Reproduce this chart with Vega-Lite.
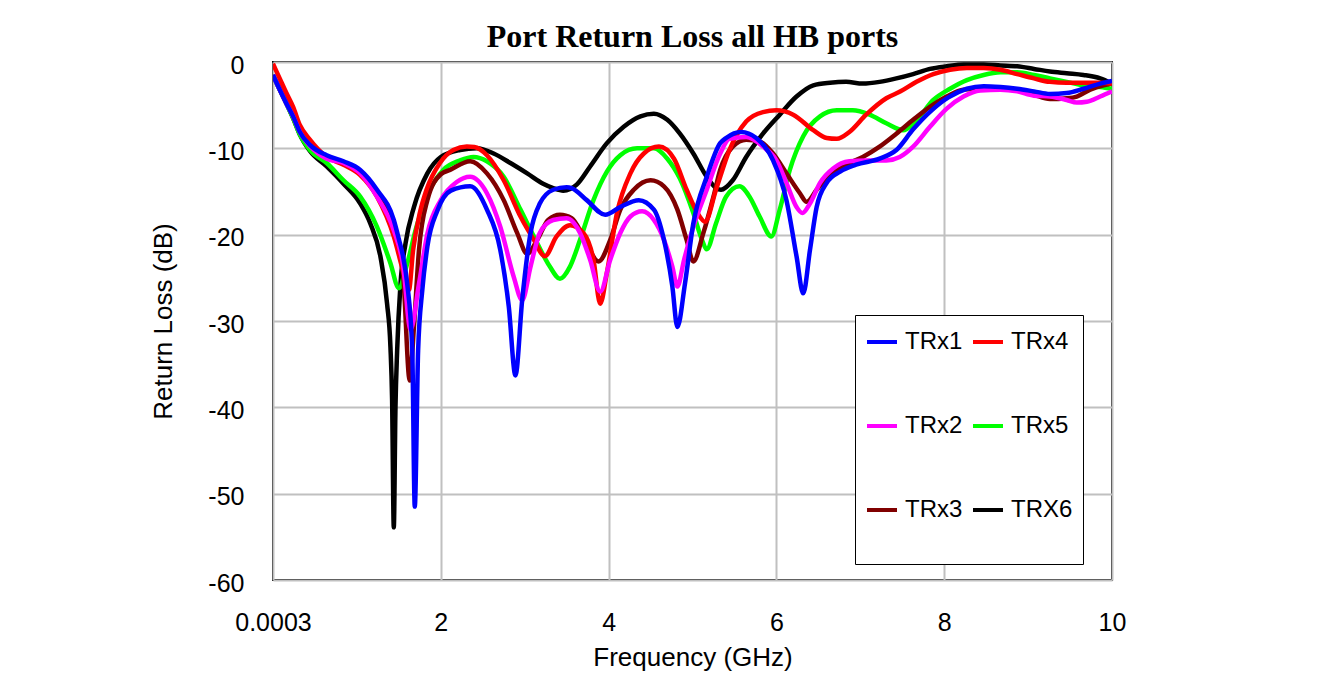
{
  "$schema": "https://vega.github.io/schema/vega-lite/v6.json",
  "autosize": {"type": "none"},
  "width": 839,
  "height": 518,
  "padding": {"left": 273, "top": 62, "right": 221, "bottom": 97},
  "background": "white",
  "title": {"text": "Port Return Loss all HB ports", "font": "Liberation Serif", "fontSize": 32, "fontWeight": "bold", "color": "black", "anchor": "middle", "offset": -1},
  "config": {
    "view": {"stroke": "black", "strokeWidth": 2},
    "axis": {"labelFont": "Liberation Sans", "titleFont": "Liberation Sans", "labelColor": "black", "titleColor": "black", "titleFontWeight": "normal", "gridColor": "#c0c0c0", "gridWidth": 2, "gridOpacity": 1, "domain": false, "ticks": false, "labelFlush": false}
  },
  "datasets": {
    "rl": [
      {"port":"TRX6","freq":0,"rl":-1.5},{"port":"TRX6","freq":0.08,"rl":-3.2},{"port":"TRX6","freq":0.16,"rl":-4.8},{"port":"TRX6","freq":0.24,"rl":-6.5},{"port":"TRX6","freq":0.32,"rl":-8.4},{"port":"TRX6","freq":0.44,"rl":-10.3},{"port":"TRX6","freq":0.64,"rl":-12.1},{"port":"TRX6","freq":0.84,"rl":-14.1},{"port":"TRX6","freq":1.04,"rl":-16.4},{"port":"TRX6","freq":1.16,"rl":-18.7},{"port":"TRX6","freq":1.28,"rl":-22.5},{"port":"TRX6","freq":1.36,"rl":-28},{"port":"TRX6","freq":1.40,"rl":-33},{"port":"TRX6","freq":1.42,"rl":-39.2},{"port":"TRX6","freq":1.44,"rl":-53.9},{"port":"TRX6","freq":1.46,"rl":-40},{"port":"TRX6","freq":1.48,"rl":-33.4},{"port":"TRX6","freq":1.52,"rl":-25.7},{"port":"TRX6","freq":1.58,"rl":-21},{"port":"TRX6","freq":1.68,"rl":-16.8},{"port":"TRX6","freq":1.84,"rl":-12.9},{"port":"TRX6","freq":2.0,"rl":-11},{"port":"TRX6","freq":2.23,"rl":-10.2},{"port":"TRX6","freq":2.43,"rl":-10},{"port":"TRX6","freq":2.63,"rl":-10.6},{"port":"TRX6","freq":2.83,"rl":-11.7},{"port":"TRX6","freq":3.03,"rl":-12.9},{"port":"TRX6","freq":3.22,"rl":-14.1},{"port":"TRX6","freq":3.34,"rl":-14.6},{"port":"TRX6","freq":3.46,"rl":-14.9},{"port":"TRX6","freq":3.62,"rl":-14.2},{"port":"TRX6","freq":3.78,"rl":-12.1},{"port":"TRX6","freq":3.98,"rl":-9.4},{"port":"TRX6","freq":4.18,"rl":-7.5},{"port":"TRX6","freq":4.38,"rl":-6.3},{"port":"TRX6","freq":4.54,"rl":-6},{"port":"TRX6","freq":4.70,"rl":-6.7},{"port":"TRX6","freq":4.85,"rl":-8.3},{"port":"TRX6","freq":5.01,"rl":-10.6},{"port":"TRX6","freq":5.17,"rl":-13.3},{"port":"TRX6","freq":5.28,"rl":-14.6},{"port":"TRX6","freq":5.34,"rl":-14.8},{"port":"TRX6","freq":5.48,"rl":-13.7},{"port":"TRX6","freq":5.64,"rl":-11},{"port":"TRX6","freq":5.84,"rl":-8.3},{"port":"TRX6","freq":6.04,"rl":-6.1},{"port":"TRX6","freq":6.24,"rl":-4},{"port":"TRX6","freq":6.44,"rl":-2.7},{"port":"TRX6","freq":6.64,"rl":-2.4},{"port":"TRX6","freq":6.83,"rl":-2.3},{"port":"TRX6","freq":7.03,"rl":-2.5},{"port":"TRX6","freq":7.23,"rl":-2.3},{"port":"TRX6","freq":7.43,"rl":-1.9},{"port":"TRX6","freq":7.63,"rl":-1.4},{"port":"TRX6","freq":7.83,"rl":-0.8},{"port":"TRX6","freq":8.03,"rl":-0.5},{"port":"TRX6","freq":8.23,"rl":-0.3},{"port":"TRX6","freq":8.47,"rl":-0.3},{"port":"TRX6","freq":8.67,"rl":-0.4},{"port":"TRX6","freq":8.87,"rl":-0.5},{"port":"TRX6","freq":9.07,"rl":-0.8},{"port":"TRX6","freq":9.26,"rl":-1.1},{"port":"TRX6","freq":9.46,"rl":-1.3},{"port":"TRX6","freq":9.66,"rl":-1.5},{"port":"TRX6","freq":9.86,"rl":-1.9},{"port":"TRX6","freq":10,"rl":-2.5},

      {"port":"TRx5","freq":0,"rl":-1.5},{"port":"TRx5","freq":0.08,"rl":-3.2},{"port":"TRx5","freq":0.16,"rl":-4.8},{"port":"TRx5","freq":0.24,"rl":-6.5},{"port":"TRx5","freq":0.32,"rl":-8.4},{"port":"TRx5","freq":0.44,"rl":-10.2},{"port":"TRx5","freq":0.64,"rl":-11.7},{"port":"TRx5","freq":0.84,"rl":-13.7},{"port":"TRx5","freq":1.04,"rl":-15.6},{"port":"TRx5","freq":1.24,"rl":-19.1},{"port":"TRx5","freq":1.40,"rl":-23.3},{"port":"TRx5","freq":1.50,"rl":-26.2},{"port":"TRx5","freq":1.59,"rl":-23.7},{"port":"TRx5","freq":1.71,"rl":-19.1},{"port":"TRx5","freq":1.87,"rl":-14.8},{"port":"TRx5","freq":2.03,"rl":-12.5},{"port":"TRx5","freq":2.23,"rl":-11.4},{"port":"TRx5","freq":2.39,"rl":-11},{"port":"TRx5","freq":2.55,"rl":-11.5},{"port":"TRx5","freq":2.75,"rl":-13.3},{"port":"TRx5","freq":2.95,"rl":-17.1},{"port":"TRx5","freq":3.15,"rl":-21},{"port":"TRx5","freq":3.30,"rl":-23.7},{"port":"TRx5","freq":3.42,"rl":-25.1},{"port":"TRx5","freq":3.54,"rl":-23.7},{"port":"TRx5","freq":3.66,"rl":-20.6},{"port":"TRx5","freq":3.82,"rl":-16},{"port":"TRx5","freq":3.98,"rl":-12.7},{"port":"TRx5","freq":4.14,"rl":-10.8},{"port":"TRx5","freq":4.34,"rl":-10},{"port":"TRx5","freq":4.54,"rl":-10},{"port":"TRx5","freq":4.70,"rl":-11.2},{"port":"TRx5","freq":4.85,"rl":-13.5},{"port":"TRx5","freq":5.01,"rl":-17.5},{"port":"TRx5","freq":5.11,"rl":-20.5},{"port":"TRx5","freq":5.17,"rl":-21.7},{"port":"TRx5","freq":5.28,"rl":-18.7},{"port":"TRx5","freq":5.40,"rl":-15.6},{"port":"TRx5","freq":5.56,"rl":-14.4},{"port":"TRx5","freq":5.68,"rl":-15.6},{"port":"TRx5","freq":5.80,"rl":-17.9},{"port":"TRx5","freq":5.94,"rl":-20.2},{"port":"TRx5","freq":6.04,"rl":-17.1},{"port":"TRx5","freq":6.16,"rl":-12.5},{"port":"TRx5","freq":6.32,"rl":-8.6},{"port":"TRx5","freq":6.52,"rl":-6.3},{"port":"TRx5","freq":6.72,"rl":-5.6},{"port":"TRx5","freq":6.91,"rl":-5.6},{"port":"TRx5","freq":7.11,"rl":-6.1},{"port":"TRx5","freq":7.31,"rl":-7.1},{"port":"TRx5","freq":7.51,"rl":-7.9},{"port":"TRx5","freq":7.65,"rl":-7},{"port":"TRx5","freq":7.87,"rl":-4.4},{"port":"TRx5","freq":8.07,"rl":-3.1},{"port":"TRx5","freq":8.27,"rl":-2.1},{"port":"TRx5","freq":8.47,"rl":-1.5},{"port":"TRx5","freq":8.67,"rl":-1.2},{"port":"TRx5","freq":8.87,"rl":-1.2},{"port":"TRx5","freq":9.07,"rl":-1.5},{"port":"TRx5","freq":9.26,"rl":-1.9},{"port":"TRx5","freq":9.46,"rl":-2.3},{"port":"TRx5","freq":9.66,"rl":-2.7},{"port":"TRx5","freq":9.86,"rl":-2.9},{"port":"TRx5","freq":10,"rl":-3.1},

      {"port":"TRx3","freq":0,"rl":-1.5},{"port":"TRx3","freq":0.08,"rl":-3.0},{"port":"TRx3","freq":0.16,"rl":-4.6},{"port":"TRx3","freq":0.24,"rl":-6.2},{"port":"TRx3","freq":0.32,"rl":-8.0},{"port":"TRx3","freq":0.44,"rl":-9.6},{"port":"TRx3","freq":0.64,"rl":-11},{"port":"TRx3","freq":0.84,"rl":-11.7},{"port":"TRx3","freq":1.04,"rl":-12.9},{"port":"TRx3","freq":1.24,"rl":-15.2},{"port":"TRx3","freq":1.44,"rl":-19.5},{"port":"TRx3","freq":1.55,"rl":-24.5},{"port":"TRx3","freq":1.63,"rl":-36.9},{"port":"TRx3","freq":1.68,"rl":-30.7},{"port":"TRx3","freq":1.74,"rl":-21.8},{"port":"TRx3","freq":1.84,"rl":-16},{"port":"TRx3","freq":2.0,"rl":-13},{"port":"TRx3","freq":2.11,"rl":-12.5},{"port":"TRx3","freq":2.35,"rl":-11.5},{"port":"TRx3","freq":2.55,"rl":-12.9},{"port":"TRx3","freq":2.75,"rl":-16},{"port":"TRx3","freq":2.91,"rl":-19.8},{"port":"TRx3","freq":3.03,"rl":-22.2},{"port":"TRx3","freq":3.15,"rl":-20.6},{"port":"TRx3","freq":3.28,"rl":-18.3},{"port":"TRx3","freq":3.42,"rl":-17.7},{"port":"TRx3","freq":3.56,"rl":-18.1},{"port":"TRx3","freq":3.70,"rl":-20.2},{"port":"TRx3","freq":3.88,"rl":-23.1},{"port":"TRx3","freq":4.02,"rl":-20.6},{"port":"TRx3","freq":4.14,"rl":-17.1},{"port":"TRx3","freq":4.30,"rl":-14.8},{"port":"TRx3","freq":4.50,"rl":-13.7},{"port":"TRx3","freq":4.66,"rl":-14.4},{"port":"TRx3","freq":4.82,"rl":-17.1},{"port":"TRx3","freq":4.93,"rl":-20.6},{"port":"TRx3","freq":5.01,"rl":-23.1},{"port":"TRx3","freq":5.13,"rl":-19.8},{"port":"TRx3","freq":5.25,"rl":-15.6},{"port":"TRx3","freq":5.33,"rl":-12.5},{"port":"TRx3","freq":5.48,"rl":-9.8},{"port":"TRx3","freq":5.64,"rl":-9},{"port":"TRx3","freq":5.80,"rl":-9.2},{"port":"TRx3","freq":5.96,"rl":-10.6},{"port":"TRx3","freq":6.12,"rl":-12.9},{"port":"TRx3","freq":6.28,"rl":-15.2},{"port":"TRx3","freq":6.36,"rl":-16.2},{"port":"TRx3","freq":6.48,"rl":-14.8},{"port":"TRx3","freq":6.64,"rl":-13.1},{"port":"TRx3","freq":6.83,"rl":-11.9},{"port":"TRx3","freq":7.03,"rl":-11},{"port":"TRx3","freq":7.23,"rl":-9.8},{"port":"TRx3","freq":7.43,"rl":-8.3},{"port":"TRx3","freq":7.63,"rl":-6.7},{"port":"TRx3","freq":7.83,"rl":-5.2},{"port":"TRx3","freq":8.03,"rl":-4},{"port":"TRx3","freq":8.23,"rl":-3.2},{"port":"TRx3","freq":8.47,"rl":-3.1},{"port":"TRx3","freq":8.67,"rl":-3.1},{"port":"TRx3","freq":8.87,"rl":-3.2},{"port":"TRx3","freq":9.07,"rl":-3.8},{"port":"TRx3","freq":9.26,"rl":-4.3},{"port":"TRx3","freq":9.46,"rl":-4.2},{"port":"TRx3","freq":9.58,"rl":-4},{"port":"TRx3","freq":9.74,"rl":-3.2},{"port":"TRx3","freq":9.9,"rl":-2.7},{"port":"TRx3","freq":10,"rl":-2.5},

      {"port":"TRx4","freq":0,"rl":-0.2},{"port":"TRx4","freq":0.08,"rl":-1.9},{"port":"TRx4","freq":0.16,"rl":-3.6},{"port":"TRx4","freq":0.24,"rl":-5.2},{"port":"TRx4","freq":0.32,"rl":-7.3},{"port":"TRx4","freq":0.44,"rl":-9},{"port":"TRx4","freq":0.64,"rl":-11},{"port":"TRx4","freq":0.84,"rl":-11.9},{"port":"TRx4","freq":1.04,"rl":-13.1},{"port":"TRx4","freq":1.24,"rl":-15.6},{"port":"TRx4","freq":1.44,"rl":-20.2},{"port":"TRx4","freq":1.55,"rl":-24.2},{"port":"TRx4","freq":1.62,"rl":-26.4},{"port":"TRx4","freq":1.67,"rl":-21.8},{"port":"TRx4","freq":1.75,"rl":-17.5},{"port":"TRx4","freq":1.83,"rl":-14.8},{"port":"TRx4","freq":1.99,"rl":-11.7},{"port":"TRx4","freq":2.15,"rl":-10.2},{"port":"TRx4","freq":2.31,"rl":-9.8},{"port":"TRx4","freq":2.40,"rl":-9.85},{"port":"TRx4","freq":2.55,"rl":-10.8},{"port":"TRx4","freq":2.75,"rl":-13.7},{"port":"TRx4","freq":2.95,"rl":-17.9},{"port":"TRx4","freq":3.11,"rl":-20.6},{"port":"TRx4","freq":3.24,"rl":-22.5},{"port":"TRx4","freq":3.38,"rl":-20.2},{"port":"TRx4","freq":3.54,"rl":-18.9},{"port":"TRx4","freq":3.70,"rl":-19.8},{"port":"TRx4","freq":3.82,"rl":-22.9},{"port":"TRx4","freq":3.90,"rl":-28},{"port":"TRx4","freq":3.98,"rl":-24.4},{"port":"TRx4","freq":4.10,"rl":-17.5},{"port":"TRx4","freq":4.26,"rl":-12.9},{"port":"TRx4","freq":4.42,"rl":-10.6},{"port":"TRx4","freq":4.60,"rl":-9.8},{"port":"TRx4","freq":4.78,"rl":-11.2},{"port":"TRx4","freq":4.93,"rl":-14.8},{"port":"TRx4","freq":5.06,"rl":-17.5},{"port":"TRx4","freq":5.15,"rl":-18.5},{"port":"TRx4","freq":5.28,"rl":-14.8},{"port":"TRx4","freq":5.44,"rl":-10.2},{"port":"TRx4","freq":5.64,"rl":-6.9},{"port":"TRx4","freq":5.84,"rl":-5.8},{"port":"TRx4","freq":6.0,"rl":-5.6},{"port":"TRx4","freq":6.2,"rl":-6.1},{"port":"TRx4","freq":6.44,"rl":-7.9},{"port":"TRx4","freq":6.6,"rl":-8.8},{"port":"TRx4","freq":6.72,"rl":-8.9},{"port":"TRx4","freq":6.87,"rl":-8.1},{"port":"TRx4","freq":7.07,"rl":-6.1},{"port":"TRx4","freq":7.31,"rl":-4.2},{"port":"TRx4","freq":7.48,"rl":-3.4},{"port":"TRx4","freq":7.67,"rl":-2.3},{"port":"TRx4","freq":7.87,"rl":-1.4},{"port":"TRx4","freq":8.07,"rl":-0.9},{"port":"TRx4","freq":8.27,"rl":-0.7},{"port":"TRx4","freq":8.47,"rl":-0.7},{"port":"TRx4","freq":8.67,"rl":-0.9},{"port":"TRx4","freq":8.87,"rl":-1.4},{"port":"TRx4","freq":9.07,"rl":-1.9},{"port":"TRx4","freq":9.26,"rl":-2.3},{"port":"TRx4","freq":9.46,"rl":-2.4},{"port":"TRx4","freq":9.66,"rl":-2.4},{"port":"TRx4","freq":9.86,"rl":-2.4},{"port":"TRx4","freq":10,"rl":-2.5},

      {"port":"TRx2","freq":0,"rl":-1.5},{"port":"TRx2","freq":0.08,"rl":-3.2},{"port":"TRx2","freq":0.16,"rl":-4.8},{"port":"TRx2","freq":0.24,"rl":-6.3},{"port":"TRx2","freq":0.32,"rl":-8.1},{"port":"TRx2","freq":0.44,"rl":-9.7},{"port":"TRx2","freq":0.64,"rl":-11.2},{"port":"TRx2","freq":0.84,"rl":-11.7},{"port":"TRx2","freq":1.04,"rl":-12.9},{"port":"TRx2","freq":1.24,"rl":-15.6},{"port":"TRx2","freq":1.44,"rl":-19.5},{"port":"TRx2","freq":1.55,"rl":-23.5},{"port":"TRx2","freq":1.64,"rl":-31},{"port":"TRx2","freq":1.74,"rl":-25.7},{"port":"TRx2","freq":1.84,"rl":-19.9},{"port":"TRx2","freq":2.0,"rl":-16},{"port":"TRx2","freq":2.19,"rl":-13.9},{"port":"TRx2","freq":2.35,"rl":-13.3},{"port":"TRx2","freq":2.55,"rl":-15.2},{"port":"TRx2","freq":2.71,"rl":-19.1},{"port":"TRx2","freq":2.87,"rl":-24.9},{"port":"TRx2","freq":2.97,"rl":-27.6},{"port":"TRx2","freq":3.07,"rl":-23.7},{"port":"TRx2","freq":3.18,"rl":-19.8},{"port":"TRx2","freq":3.34,"rl":-18.3},{"port":"TRx2","freq":3.50,"rl":-18.1},{"port":"TRx2","freq":3.66,"rl":-19.8},{"port":"TRx2","freq":3.78,"rl":-22.9},{"port":"TRx2","freq":3.90,"rl":-26.6},{"port":"TRx2","freq":4.02,"rl":-22.9},{"port":"TRx2","freq":4.14,"rl":-19.8},{"port":"TRx2","freq":4.26,"rl":-17.9},{"port":"TRx2","freq":4.40,"rl":-17.3},{"port":"TRx2","freq":4.54,"rl":-18.3},{"port":"TRx2","freq":4.66,"rl":-20.6},{"port":"TRx2","freq":4.76,"rl":-23.7},{"port":"TRx2","freq":4.82,"rl":-26},{"port":"TRx2","freq":4.90,"rl":-22.9},{"port":"TRx2","freq":5.01,"rl":-19.1},{"port":"TRx2","freq":5.17,"rl":-14.8},{"port":"TRx2","freq":5.33,"rl":-10.6},{"port":"TRx2","freq":5.44,"rl":-8.9},{"port":"TRx2","freq":5.64,"rl":-8.7},{"port":"TRx2","freq":5.84,"rl":-9.8},{"port":"TRx2","freq":6.0,"rl":-11.4},{"port":"TRx2","freq":6.12,"rl":-14},{"port":"TRx2","freq":6.24,"rl":-16.8},{"port":"TRx2","freq":6.31,"rl":-17.5},{"port":"TRx2","freq":6.40,"rl":-16.4},{"port":"TRx2","freq":6.52,"rl":-14},{"port":"TRx2","freq":6.68,"rl":-12.3},{"port":"TRx2","freq":6.87,"rl":-11.5},{"port":"TRx2","freq":7.07,"rl":-11.4},{"port":"TRx2","freq":7.31,"rl":-11.4},{"port":"TRx2","freq":7.47,"rl":-11},{"port":"TRx2","freq":7.63,"rl":-9.8},{"port":"TRx2","freq":7.83,"rl":-7.5},{"port":"TRx2","freq":8.03,"rl":-5.4},{"port":"TRx2","freq":8.23,"rl":-4},{"port":"TRx2","freq":8.43,"rl":-3.3},{"port":"TRx2","freq":8.67,"rl":-3.2},{"port":"TRx2","freq":8.87,"rl":-3.4},{"port":"TRx2","freq":9.07,"rl":-3.9},{"port":"TRx2","freq":9.26,"rl":-4},{"port":"TRx2","freq":9.46,"rl":-4.4},{"port":"TRx2","freq":9.58,"rl":-4.7},{"port":"TRx2","freq":9.70,"rl":-4.6},{"port":"TRx2","freq":9.86,"rl":-4},{"port":"TRx2","freq":10,"rl":-3.4},

      {"port":"TRx1","freq":0,"rl":-1.5},{"port":"TRx1","freq":0.08,"rl":-3.2},{"port":"TRx1","freq":0.16,"rl":-4.8},{"port":"TRx1","freq":0.24,"rl":-6.3},{"port":"TRx1","freq":0.32,"rl":-8.1},{"port":"TRx1","freq":0.44,"rl":-9.6},{"port":"TRx1","freq":0.64,"rl":-10.8},{"port":"TRx1","freq":0.84,"rl":-11.5},{"port":"TRx1","freq":1.04,"rl":-12.5},{"port":"TRx1","freq":1.24,"rl":-14.8},{"port":"TRx1","freq":1.44,"rl":-18.3},{"port":"TRx1","freq":1.50,"rl":-20.5},{"port":"TRx1","freq":1.55,"rl":-22.5},{"port":"TRx1","freq":1.60,"rl":-25.7},{"port":"TRx1","freq":1.66,"rl":-33.4},{"port":"TRx1","freq":1.69,"rl":-51.5},{"port":"TRx1","freq":1.73,"rl":-33.4},{"port":"TRx1","freq":1.78,"rl":-26.4},{"port":"TRx1","freq":1.84,"rl":-21.4},{"port":"TRx1","freq":1.96,"rl":-17.2},{"port":"TRx1","freq":2.12,"rl":-14.9},{"port":"TRx1","freq":2.35,"rl":-14.4},{"port":"TRx1","freq":2.55,"rl":-17.1},{"port":"TRx1","freq":2.71,"rl":-21.8},{"port":"TRx1","freq":2.81,"rl":-28.3},{"port":"TRx1","freq":2.89,"rl":-36.3},{"port":"TRx1","freq":2.97,"rl":-27.6},{"port":"TRx1","freq":3.07,"rl":-19.8},{"port":"TRx1","freq":3.18,"rl":-16.4},{"port":"TRx1","freq":3.34,"rl":-14.8},{"port":"TRx1","freq":3.50,"rl":-14.5},{"port":"TRx1","freq":3.56,"rl":-14.6},{"port":"TRx1","freq":3.74,"rl":-16},{"port":"TRx1","freq":3.96,"rl":-17.7},{"port":"TRx1","freq":4.14,"rl":-16.8},{"port":"TRx1","freq":4.36,"rl":-16},{"port":"TRx1","freq":4.54,"rl":-17.1},{"port":"TRx1","freq":4.66,"rl":-20.6},{"port":"TRx1","freq":4.76,"rl":-26},{"port":"TRx1","freq":4.82,"rl":-30.7},{"port":"TRx1","freq":4.91,"rl":-25.7},{"port":"TRx1","freq":5.01,"rl":-18.7},{"port":"TRx1","freq":5.17,"rl":-13.3},{"port":"TRx1","freq":5.33,"rl":-9.4},{"port":"TRx1","freq":5.40,"rl":-8.8},{"port":"TRx1","freq":5.58,"rl":-8.1},{"port":"TRx1","freq":5.76,"rl":-8.8},{"port":"TRx1","freq":5.96,"rl":-11.4},{"port":"TRx1","freq":6.12,"rl":-16},{"port":"TRx1","freq":6.24,"rl":-22.5},{"port":"TRx1","freq":6.32,"rl":-26.8},{"port":"TRx1","freq":6.40,"rl":-21.8},{"port":"TRx1","freq":6.48,"rl":-16.8},{"port":"TRx1","freq":6.60,"rl":-14},{"port":"TRx1","freq":6.76,"rl":-12.7},{"port":"TRx1","freq":6.95,"rl":-11.9},{"port":"TRx1","freq":7.23,"rl":-11.2},{"port":"TRx1","freq":7.43,"rl":-10.2},{"port":"TRx1","freq":7.63,"rl":-7.8},{"port":"TRx1","freq":7.85,"rl":-5.6},{"port":"TRx1","freq":8.05,"rl":-4.1},{"port":"TRx1","freq":8.27,"rl":-3.1},{"port":"TRx1","freq":8.47,"rl":-2.8},{"port":"TRx1","freq":8.67,"rl":-2.9},{"port":"TRx1","freq":8.87,"rl":-3.1},{"port":"TRx1","freq":9.07,"rl":-3.4},{"port":"TRx1","freq":9.26,"rl":-3.7},{"port":"TRx1","freq":9.46,"rl":-3.6},{"port":"TRx1","freq":9.66,"rl":-3.1},{"port":"TRx1","freq":9.86,"rl":-2.5},{"port":"TRx1","freq":10,"rl":-2.2}
    ]
  },
  "data": {"name": "rl"},
  "mark": {"type": "line", "strokeWidth": 4.5, "interpolate": "monotone", "clip": true},
  "encoding": {
    "x": {"field": "freq", "type": "quantitative", "scale": {"domain": [0.0003, 10], "nice": false, "zero": false},
      "axis": {"values": [0.0003, 2, 4, 6, 8, 10], "labelExpr": "datum.value < 0.001 ? '0.0003' : '' + datum.value", "labelFontSize": 25, "labelPadding": 30, "title": "Frequency (GHz)", "titleFontSize": 26, "titlePadding": 9, "grid": true}},
    "y": {"field": "rl", "type": "quantitative", "scale": {"domain": [-60, 0], "nice": false},
      "axis": {"values": [-60, -50, -40, -30, -20, -10, 0], "labelExpr": "'' + datum.value", "labelFontSize": 25, "labelPadding": 29, "labelOffset": 3, "title": "Return Loss (dB)", "titleFontSize": 26, "titlePadding": 31, "grid": true}},
    "color": {"field": "port", "type": "nominal",
      "scale": {"domain": ["TRx1", "TRx2", "TRx3", "TRx4", "TRx5", "TRX6"], "range": ["#0000ff", "#ff00ff", "#800000", "#ff0000", "#00ff00", "#000000"]},
      "legend": {"orient": "none", "legendX": 582, "legendY": 253, "direction": "vertical", "columns": 2, "title": " ", "titleOrient": "bottom", "titleFontSize": 20, "titlePadding": 12, "padding": 10, "fillColor": "white", "strokeColor": "black", "symbolType": "stroke", "symbolStrokeWidth": 4, "symbolSize": 900, "labelFont": "Liberation Sans", "labelFontSize": 24, "labelColor": "black", "labelOffset": 6, "rowPadding": 55, "columnPadding": 2}}
  }
}
